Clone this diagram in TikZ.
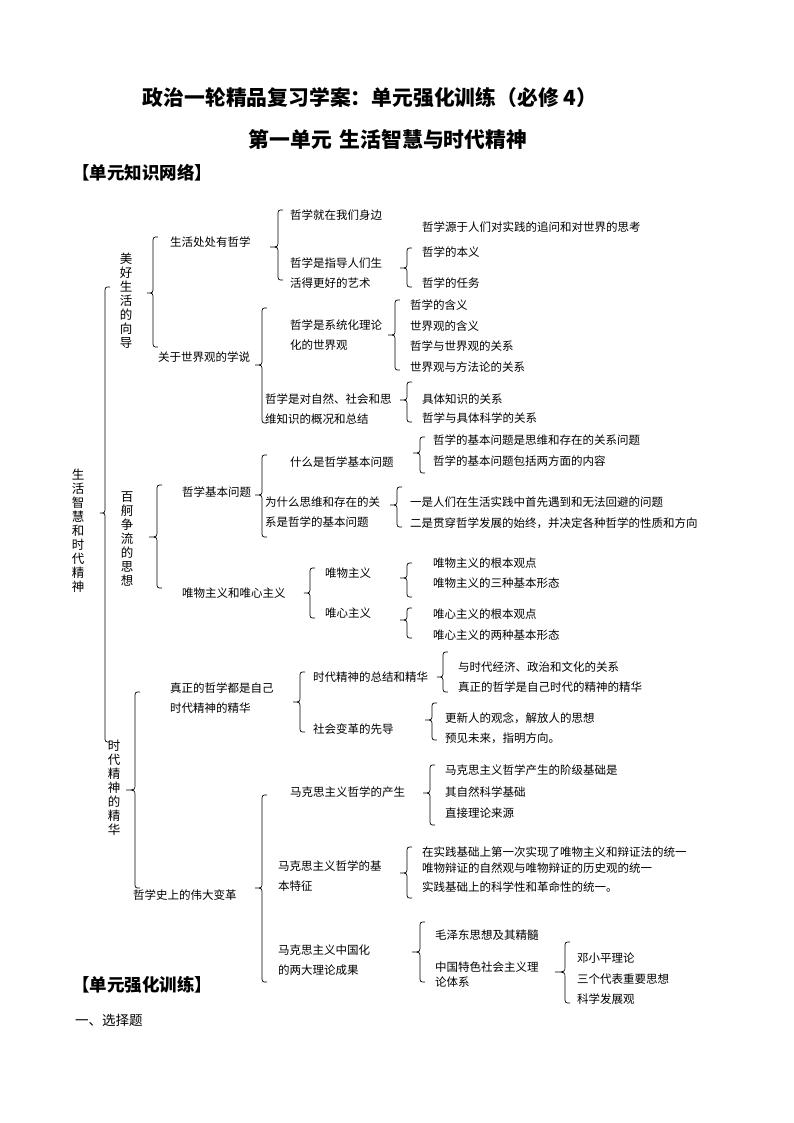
\documentclass[tikz,border=0pt]{standalone}
\usepackage{fontspec}
\setmainfont{Noto Sans CJK SC}
\newcommand{\brc}[5]{\draw[brcline] ({#1+5},#2) .. controls (#1,#2) .. (#1,{#2+6}) -- (#1,{#3-6}) .. controls (#1,#3) .. (#5,#3) .. controls (#1,#3) .. (#1,{#3+6}) -- (#1,{#4-6}) .. controls (#1,#4) .. ({#1+5},#4);}
\begin{document}
\begin{tikzpicture}[x=1pt,y=-1pt,
  t/.style={anchor=west, inner sep=0pt, font=\fontsize{11.5}{20.5}\selectfont, align=left},
  vt/.style={inner sep=0pt, font=\fontsize{12.5}{14}\selectfont, align=center},
  ttl/.style={inner sep=0pt, font=\fontsize{20.8}{24}\selectfont\bfseries},
  sec/.style={anchor=west, inner sep=0pt, font=\fontsize{17.5}{20}\selectfont\bfseries},
  brcline/.style={line width=0.7pt, black}]
\useasboundingbox (0,0) rectangle (794,1123);
\fill[white] (0,0) rectangle (794,1123);
% titles
\node[ttl] (title1) at (370,98) {政治一轮精品复习学案：单元强化训练（必修 4）};
\node[ttl] (title2) at (388,140) {第一单元\hspace{8pt}生活智慧与时代精神};
\node[sec] (sec1) at (72,173) {【单元知识网络】};
\node[sec] (sec2) at (72,985) {【单元强化训练】};
\node[t, font=\fontsize{13.5}{16}\selectfont] (q1) at (75,1020) {一、选择题};
% vertical labels
\node[vt] (root) at (78,531) {生\\活\\智\\慧\\和\\时\\代\\精\\神};
\node[vt] (a1) at (126,301) {美\\好\\生\\活\\的\\向\\导};
\node[vt] (a2) at (127,539) {百\\舸\\争\\流\\的\\思\\想};
\node[vt] (a3) at (114,788) {时\\代\\精\\神\\的\\精\\华};
% braces level 0/1
\brc{105}{287}{513}{742}{100}
\brc{153}{237}{293}{347}{147}
\brc{157}{485}{537}{588}{149}
\brc{135}{692}{790}{888}{126}
% level 2 nodes
\node[t] (b1) at (170,242) {生活处处有哲学};
\node[t] (b2) at (158,357) {关于世界观的学说};
\node[t] (b3) at (182,492) {哲学基本问题};
\node[t] (b4) at (182,593) {唯物主义和唯心主义};
\node[t] (b5) at (170,698) {真正的哲学都是自己\\时代精神的精华};
\node[t] (b6) at (133,895) {哲学史上的伟大变革};
% level 2 braces
\brc{278}{210}{247}{280}{270}
\brc{262}{308}{365}{423}{255}
\brc{262}{455}{495}{537}{255}
\brc{310}{568}{593}{618}{304}
\brc{300}{672}{702}{732}{293}
\brc{262}{795}{888}{982}{255}
% level 3: 生活处处有哲学
\node[t] (c1) at (290,215) {哲学就在我们身边};
\node[t] (c1a) at (422,227) {哲学源于人们对实践的追问和对世界的思考};
\node[t] (c2) at (290,273) {哲学是指导人们生\\活得更好的艺术};
\brc{407}{248}{268}{287}{400}
\node[t] (c2a) at (422,252) {哲学的本义};
\node[t] (c2b) at (422,283) {哲学的任务};
% 关于世界观的学说
\node[t] (c3) at (290,335) {哲学是系统化理论\\化的世界观};
\brc{395}{300}{335}{370}{388}
\node[t] (c3a) at (410,305) {哲学的含义};
\node[t] (c3b) at (410,326) {世界观的含义};
\node[t] (c3c) at (410,346) {哲学与世界观的关系};
\node[t] (c3d) at (410,367) {世界观与方法论的关系};
\node[t] (c4) at (265,409) {哲学是对自然、社会和思\\维知识的概况和总结};
\brc{407}{382}{400}{422}{400}
\node[t] (c4a) at (422,399) {具体知识的关系};
\node[t] (c4b) at (422,418) {哲学与具体科学的关系};
% 哲学基本问题
\node[t] (c5) at (290,462) {什么是哲学基本问题};
\brc{420}{437}{453}{473}{413}
\node[t] (c5a) at (433,440) {哲学的基本问题是思维和存在的关系问题};
\node[t] (c5b) at (433,461) {哲学的基本问题包括两方面的内容};
\node[t] (c6) at (265,512) {为什么思维和存在的关\\系是哲学的基本问题};
\brc{397}{487}{505}{527}{390}
\node[t] (c6a) at (410,502) {一是人们在生活实践中首先遇到和无法回避的问题};
\node[t] (c6b) at (410,523) {二是贯穿哲学发展的始终，并决定各种哲学的性质和方向};
% 唯物主义和唯心主义
\node[t] (c7) at (325,573) {唯物主义};
\node[t] (c8) at (325,613) {唯心主义};
\brc{407}{563}{578}{597}{400}
\brc{407}{608}{620}{638}{400}
\node[t] (c7a) at (433,563) {唯物主义的根本观点};
\node[t] (c7b) at (433,583) {唯物主义的三种基本形态};
\node[t] (c8a) at (433,614) {唯心主义的根本观点};
\node[t] (c8b) at (433,635) {唯心主义的两种基本形态};
% 真正的哲学
\node[t] (c9) at (313,677) {时代精神的总结和精华};
\brc{443}{652}{677}{692}{437}
\node[t] (c9a) at (458,667) {与时代经济、政治和文化的关系};
\node[t] (c9b) at (458,687) {真正的哲学是自己时代的精神的精华};
\node[t] (c10) at (313,729) {社会变革的先导};
\brc{432}{703}{720}{740}{425}
\node[t] (c10a) at (445,718) {更新人的观念，解放人的思想};
\node[t] (c10b) at (445,738) {预见未来，指明方向。};
% 哲学史上的伟大变革
\node[t] (c11) at (290,792) {马克思主义哲学的产生};
\brc{430}{765}{793}{825}{423}
\node[t] (c11a) at (445,770) {马克思主义哲学产生的阶级基础是};
\node[t] (c11b) at (445,792) {其自然科学基础};
\node[t] (c11c) at (445,813) {直接理论来源};
\node[t] (c12) at (278,876) {马克思主义哲学的基\\本特征};
\brc{407}{847}{873}{898}{400}
\node[t] (c12a) at (422,852) {在实践基础上第一次实现了唯物主义和辩证法的统一};
\node[t] (c12b) at (422,868) {唯物辩证的自然观与唯物辩证的历史观的统一};
\node[t] (c12c) at (422,887) {实践基础上的科学性和革命性的统一。};
\node[t] (c13) at (278,960) {马克思主义中国化\\的两大理论成果};
\brc{420}{922}{952}{982}{412}
\node[t] (c13a) at (435,935) {毛泽东思想及其精髓};
\node[t, font=\fontsize{11.5}{15}\selectfont] (c13b) at (435,975) {中国特色社会主义理\\论体系};
\brc{565}{942}{972}{1003}{555}
\node[t] (d1) at (577,958) {邓小平理论};
\node[t] (d2) at (577,979) {三个代表重要思想};
\node[t] (d3) at (577,999) {科学发展观};
\end{tikzpicture}
\end{document}
